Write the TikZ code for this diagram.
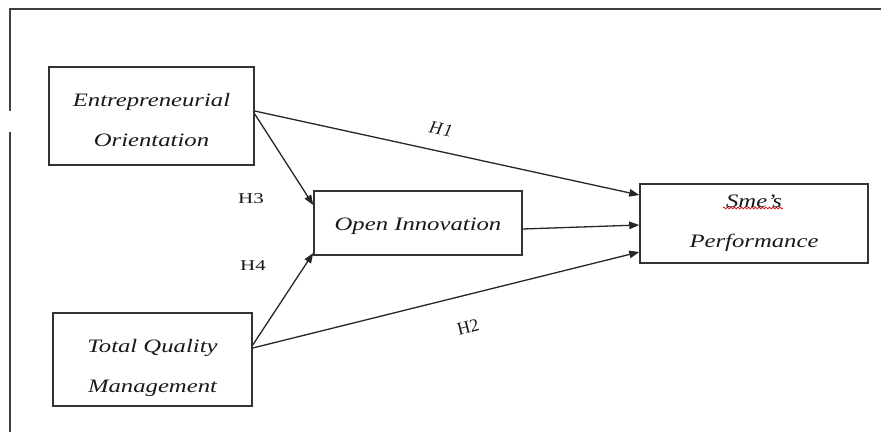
\documentclass[tikz,border=0pt]{standalone}
\usepackage{fontspec}
\setmainfont{Liberation Serif}
\newfontfamily\boxfont[FakeStretch=1.3]{Liberation Serif}
\newfontfamily\hypfont[FakeStretch=1.4]{Liberation Serif}
\usetikzlibrary{arrows.meta,decorations.pathmorphing,calc}

\tikzset{
  construct/.style={draw=black!80, line width=1.5pt, inner sep=0pt},
  construct text/.style={inner sep=0pt, align=center, text=black!90,
    font=\boxfont\itshape\fontsize{19}{40}\selectfont},
  path arrow/.style={draw=black!85, line width=1.3pt,
    -{Triangle[length=10pt,width=7.5pt]}},
  hyp/.style={text=black!90, inner sep=0pt, font=\hypfont\fontsize{15}{15}\selectfont},
  sloped hyp/.style={text=black!90, inner sep=0pt, font=\fontsize{18}{18}\selectfont},
  frame line/.style={draw=black!75, line width=1.5pt}
}

\begin{document}
\begin{tikzpicture}[x=1pt,y=-1pt]
  \useasboundingbox (0,0) rectangle (881,432);

  % page frame
  \coordinate (ftl) at (10,9);
  \coordinate (ftr) at (881,9);
  \coordinate (fgap1) at (10,111);
  \coordinate (fgap2) at (10,132);
  \coordinate (fbot) at (10,432);
  \draw[frame line] (fgap1) -- (ftl) -- (ftr);
  \draw[frame line] (fgap2) -- (fbot);

  % constructs (box plus its caption, set slightly below centre)
  \node[construct, minimum width=205pt, minimum height=98pt,
    label={[construct text, yshift=-4pt]center:{Entrepreneurial\\Orientation}}]
    (eo) at (151.5,116) {};
  \node[construct, minimum width=199pt, minimum height=93pt,
    label={[construct text, yshift=-8pt]center:{Total Quality\\Management}}]
    (tqm) at (152.5,359.5) {};
  \node[construct, minimum width=208pt, minimum height=64pt,
    label={[construct text, yshift=-3.5pt]center:{Open Innovation}}]
    (oi) at (418,223) {};
  \node[construct, minimum width=228pt, minimum height=79pt,
    label={[construct text, yshift=0pt]center:{Sme’s\\Performance}}]
    (sp) at (754,223.5) {};

  % spelling mark under the first word
  \coordinate (wavy1) at ($(sp.center)+(-31,-15.5)$);
  \coordinate (wavy2) at ($(sp.center)+(29,-15.5)$);
  \draw[red!85!black, line width=0.7pt,
    decorate, decoration={snake, segment length=3.5pt, amplitude=0.9pt}]
    (wavy1) -- (wavy2);

  % hypothesised paths
  \draw[path arrow] ([yshift=5pt]eo.east) -- ([yshift=28.5pt]sp.west);
  \draw[path arrow] ([yshift=2pt]eo.east) -- ([yshift=18pt]oi.west);
  \draw[path arrow] ([yshift=14.5pt]tqm.east) -- ([yshift=-30pt]oi.west);
  \draw[path arrow] ([yshift=11.5pt]tqm.east) -- ([yshift=-28.5pt]sp.west);
  \draw[path arrow] ([yshift=-6pt]oi.east) -- ([yshift=-1.5pt]sp.west);

  % hypothesis labels
  \node[sloped hyp, font=\itshape\fontsize{18}{18}\selectfont, rotate=-12] (h1) at (441,129) {H\kern1.5pt 1};
  \node[sloped hyp, rotate=14] (h2) at (468,327) {H2};
  \node[hyp] (h3) at (251,199) {H3};
  \node[hyp] (h4) at (253,266) {H4};
\end{tikzpicture}
\end{document}
